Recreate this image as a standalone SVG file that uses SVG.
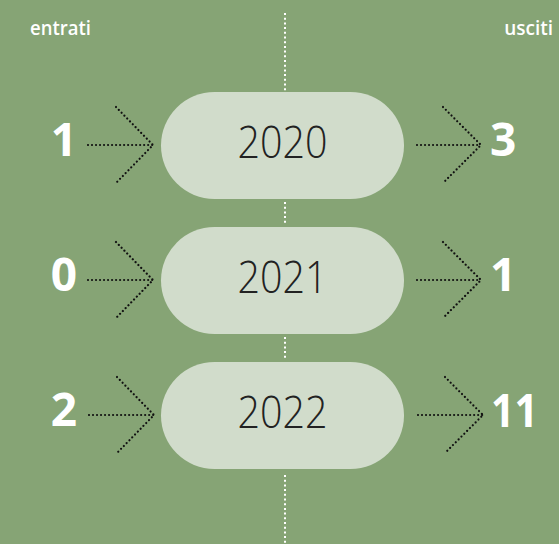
<svg xmlns="http://www.w3.org/2000/svg" width="559" height="544" viewBox="0 0 559 544">
<style>
.pill{fill:#d1dccb}
.year{font-family:"Open Sans",sans-serif;font-weight:300;font-size:45px;fill:#222;text-anchor:middle}
.num{font-family:"Open Sans",sans-serif;font-weight:700;font-size:46px;fill:#fff}
.hdr{font-family:"Open Sans",sans-serif;font-weight:600;font-size:19px;fill:#fff}
.vdot{stroke:#fff;stroke-width:2;stroke-dasharray:2 2.7;fill:none}
.arr{stroke:#111;stroke-width:2.2;stroke-dasharray:0.01 4;fill:none;stroke-linecap:round}
</style>
<rect width="559" height="544" fill="#86a475"/>
<g id="header">
<text class="hdr" x="30" y="35" textLength="61" lengthAdjust="spacingAndGlyphs">entrati</text>
<text class="hdr" x="553" y="35" text-anchor="end">usciti</text>
</g>
<g id="connectors">
<line class="vdot" x1="285" y1="13" x2="285" y2="92"/>
<line class="vdot" x1="285" y1="202" x2="285" y2="225"/>
<line class="vdot" x1="285" y1="337" x2="285" y2="360"/>
<line class="vdot" x1="285" y1="475" x2="285" y2="544"/>
<g id="arrows-in">
<path class="arr" d="M88 145H153M116 107L153 145L116 183"/>
<path class="arr" d="M88 280H153M116 242L153 280L116 318"/>
<path class="arr" d="M89 415H154M117 377L154 415L117 453"/>
</g>
<g id="arrows-out">
<path class="arr" d="M417 145H481M443 107L481 145L443 183"/>
<path class="arr" d="M417 280H481M443 242L481 280L443 318"/>
<path class="arr" d="M418 415H483M445 377L483 415L445 453"/>
</g>
</g>
<g id="node-2020">
<rect class="pill" x="161" y="92" width="243" height="107" rx="53.5"/>
<text class="year" x="282.5" y="158" textLength="90" lengthAdjust="spacingAndGlyphs">2020</text>
</g>
<g id="node-2021">
<rect class="pill" x="161" y="227" width="243" height="107" rx="53.5"/>
<text class="year" x="282.5" y="293" textLength="90" lengthAdjust="spacingAndGlyphs">2021</text>
</g>
<g id="node-2022">
<rect class="pill" x="161" y="362" width="243" height="107" rx="53.5"/>
<text class="year" x="282.5" y="428" textLength="90" lengthAdjust="spacingAndGlyphs">2022</text>
</g>
<g id="in-values">
<text class="num" x="64" y="156" text-anchor="middle">1</text>
<text class="num" x="64" y="291" text-anchor="middle">0</text>
<text class="num" x="64" y="426" text-anchor="middle">2</text>
</g>
<g id="out-values">
<text class="num" x="490" y="156">3</text>
<text class="num" x="490" y="291">1</text>
<text class="num" x="491" y="427" textLength="47" lengthAdjust="spacingAndGlyphs">11</text>
</g>
</svg>
